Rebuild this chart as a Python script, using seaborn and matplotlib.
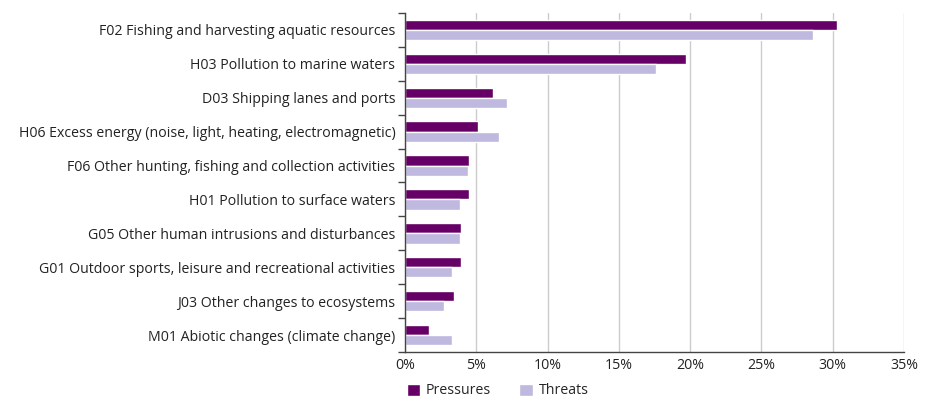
import numpy as np
import pandas as pd
import matplotlib
matplotlib.use("Agg")
import matplotlib.pyplot as plt
import seaborn as sns
from matplotlib.ticker import FuncFormatter, FixedLocator

# Dados
categorias = [
    "F02 Fishing and harvesting aquatic resources",
    "H03 Pollution to marine waters",
    "D03 Shipping lanes and ports",
    "H06 Excess energy (noise, light, heating, electromagnetic)",
    "F06 Other hunting, fishing and collection activities",
    "H01 Pollution to surface waters",
    "G05 Other human intrusions and disturbances",
    "G01 Outdoor sports, leisure and recreational activities",
    "J03 Other changes to ecosystems",
    "M01 Abiotic changes (climate change)",
]
pressures = [30.3, 19.7, 6.2, 5.1, 4.5, 4.5, 3.95, 3.95, 3.4, 1.7]
threats = [28.6, 17.6, 7.15, 6.6, 4.45, 3.85, 3.85, 3.3, 2.75, 3.3]
x_ticks = [0, 5, 10, 15, 20, 25, 30, 35]

df = pd.DataFrame({
    "categoria": categorias * 2,
    "valor": pressures + threats,
    "tipo": ["Pressures"] * len(categorias) + ["Threats"] * len(categorias),
})

sns.set_style("white")
plt.rcParams["font.family"] = ["Open Sans", "DejaVu Sans"]

fig, ax = plt.subplots(figsize=(9.38, 4.0), dpi=100)
fig.subplots_adjust(left=0.4318, right=0.9638, top=0.9675, bottom=0.12)

sns.barplot(data=df, y="categoria", x="valor", hue="tipo", orient="h",
            palette={"Pressures": "#660066", "Threats": "#bfb8df"},
            saturation=1, width=0.6, gap=0, ax=ax, legend=True)

ax.set_xlim(0, 35)
ax.set_ylim(len(categorias) - 0.5, -0.5)
ax.xaxis.set_major_locator(FixedLocator(x_ticks))
ax.xaxis.set_major_formatter(FuncFormatter(lambda v, p: f"{v:.0f}%"))
ax.grid(axis="x", color="#cccccc", linewidth=1)
ax.set_axisbelow(True)
ax.set_xlabel("")
ax.set_ylabel("")

for s in ["top", "right"]:
    ax.spines[s].set_visible(False)
for s in ["left", "bottom"]:
    ax.spines[s].set_color("#444444")
    ax.spines[s].set_linewidth(1)

# ticks nas fronteiras das categorias
ax.yaxis.set_minor_locator(FixedLocator(np.arange(-0.5, len(categorias), 1)))
ax.tick_params(axis="y", which="major", length=0, labelsize=10.2, colors="#222222", pad=7)
ax.tick_params(axis="y", which="minor", length=5, color="#444444", width=1, left=True)
ax.tick_params(axis="x", which="major", length=0, labelsize=10.2, colors="#222222", pad=4)

handles, labels = ax.get_legend_handles_labels()
ax.legend(handles, labels, loc="center left", bbox_to_anchor=(-0.008, -0.115),
          ncol=2, frameon=False, fontsize=10.2, handlelength=0.95, handleheight=0.95,
          columnspacing=2.0, handletextpad=0.4, borderaxespad=0)

plt.savefig("out.png", dpi=100)
plt.close()
